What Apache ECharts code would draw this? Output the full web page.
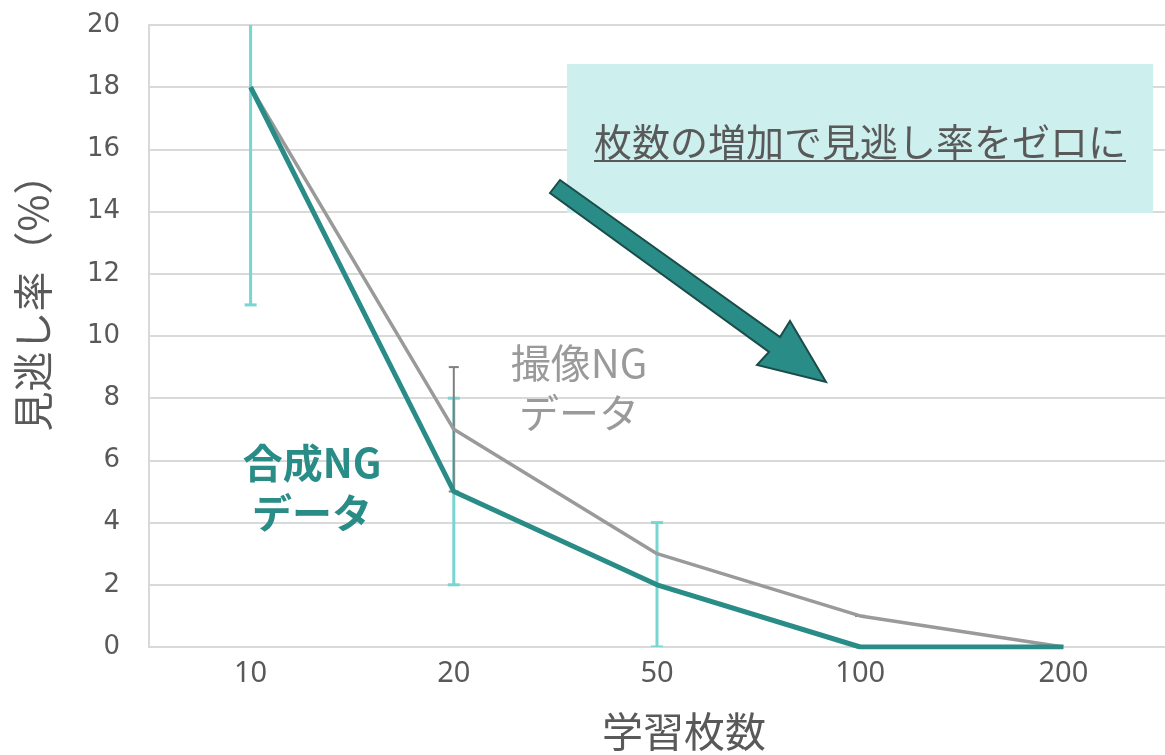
<!DOCTYPE html>
<html>
<head>
<meta charset="utf-8">
<script src="https://cdn.jsdelivr.net/npm/echarts@6/dist/echarts.min.js"></script>
<style>
  html, body { margin: 0; padding: 0; background: #fff; }
  #box { width: 1165px; height: 755px; }
</style>
</head>
<body>
<div id="box"></div>
<script>
// 学習枚数
var categories = ['10', '20', '50', '100', '200'];
// 見逃し率 (%)
var synthValues = [18, 5, 2, 0, 0];     // 合成NGデータ
var captureValues = [18, 7, 3, 1, 0];   // 撮像NGデータ
// error bars: [category index, low, high]
var synthErr = [[0, 11, 22], [1, 2, 8], [2, 0, 4]];
var captureErr = [[1, 5, 9], [3, 1, 1]];
var yTicks = { min: 0, max: 20, interval: 2 };

var FONT = '"Noto Sans CJK JP", "Noto Sans", sans-serif';
var TEAL = '#2a8c87';
var GRAY = '#9a9a9a';

function errRender(color, width, cap) {
    return function (params, api) {
        var x = api.value(0);
        var lo = api.coord([x, api.value(1)]);
        var hi = api.coord([x, api.value(2)]);
        var st = { stroke: color, lineWidth: width };
        return {
            type: 'group',
            children: [
                { type: 'line', shape: { x1: lo[0], y1: lo[1], x2: hi[0], y2: hi[1] }, style: st },
                { type: 'line', shape: { x1: lo[0] - cap, y1: lo[1], x2: lo[0] + cap, y2: lo[1] }, style: st },
                { type: 'line', shape: { x1: hi[0] - cap, y1: hi[1], x2: hi[0] + cap, y2: hi[1] }, style: st }
            ]
        };
    };
}

var chart = echarts.init(document.getElementById('box'));
var option = {
    animation: false,
    textStyle: { fontFamily: FONT },
    grid: { left: 149, right: 0, top: 25, bottom: 108, outerBoundsMode: 'none', containLabel: false },
    xAxis: {
        type: 'category',
        data: categories,
        name: '学習枚数',
        nameLocation: 'middle',
        nameGap: 64,
        nameTextStyle: { color: '#595959', fontSize: 41, fontFamily: FONT, padding: [0, 0, 0, 54] },
        axisTick: { show: false },
        axisLine: { lineStyle: { color: '#d9d9d9', width: 2 } },
        axisLabel: { color: '#595959', fontSize: 29, margin: 12, fontFamily: '"Noto Sans", sans-serif' }
    },
    yAxis: {
        type: 'value',
        min: yTicks.min,
        max: yTicks.max,
        interval: yTicks.interval,
        name: '見逃し率（%）',
        nameLocation: 'middle',
        nameGap: 96,
        nameTextStyle: { color: '#595959', fontSize: 40, fontFamily: FONT, padding: [0, 0, 0, 86] },
        axisLine: { show: true, lineStyle: { color: '#d9d9d9', width: 2 } },
        axisTick: { show: false },
        splitLine: { lineStyle: { color: '#d9d9d9', width: 2 } },
        axisLabel: { color: '#595959', fontSize: 26, margin: 29, fontFamily: '"DejaVu Sans", sans-serif' }
    },
    series: [
        {
            type: 'custom',
            name: 'synthErr',
            data: synthErr,
            clip: true,
            z: 1,
            renderItem: errRender('#79d5d0', 3, 6)
        },
        {
            type: 'custom',
            name: 'captureErr',
            data: captureErr,
            clip: true,
            z: 1,
            renderItem: errRender('#7f7f7f', 2, 5)
        },
        {
            type: 'line',
            name: '撮像NGデータ',
            data: captureValues,
            symbol: 'none',
            z: 3,
            lineStyle: { color: GRAY, width: 3.5 }
        },
        {
            type: 'line',
            name: '合成NGデータ',
            data: synthValues,
            symbol: 'none',
            z: 4,
            lineStyle: { color: TEAL, width: 5 }
        }
    ],
    graphic: [
        // 注釈ボックス
        {
            type: 'rect',
            shape: { x: 567, y: 64, width: 586, height: 149 },
            style: { fill: '#cdefee' },
            z: 10
        },
        {
            type: 'text',
            x: 860, y: 142,
            style: {
                text: '枚数の増加で見逃し率をゼロに',
                fill: '#595959',
                font: '38px ' + FONT,
                align: 'center',
                verticalAlign: 'middle'
            },
            z: 11
        },
        {
            type: 'line',
            shape: { x1: 594, y1: 161, x2: 1126, y2: 161 },
            style: { stroke: '#595959', lineWidth: 2 },
            z: 11
        },
        // 矢印
        {
            type: 'polygon',
            shape: {
                points: [[560, 180], [780, 337], [790, 321], [826, 382], [757, 365], [769, 352], [550, 193]]
            },
            style: { fill: TEAL, stroke: '#1a4d4a', lineWidth: 2 },
            z: 12
        },
        {
            type: 'text',
            x: 312, y: 488,
            style: {
                text: '合成NG\nデータ',
                fill: TEAL,
                font: 'bold 40px ' + FONT,
                align: 'center',
                verticalAlign: 'middle',
                lineHeight: 50
            },
            z: 10
        },
        {
            type: 'text',
            x: 579, y: 388,
            style: {
                text: '撮像NG\nデータ',
                fill: GRAY,
                font: '40px ' + FONT,
                align: 'center',
                verticalAlign: 'middle',
                lineHeight: 50
            },
            z: 10
        }
    ]
};
chart.setOption(option);
</script>
</body>
</html>
